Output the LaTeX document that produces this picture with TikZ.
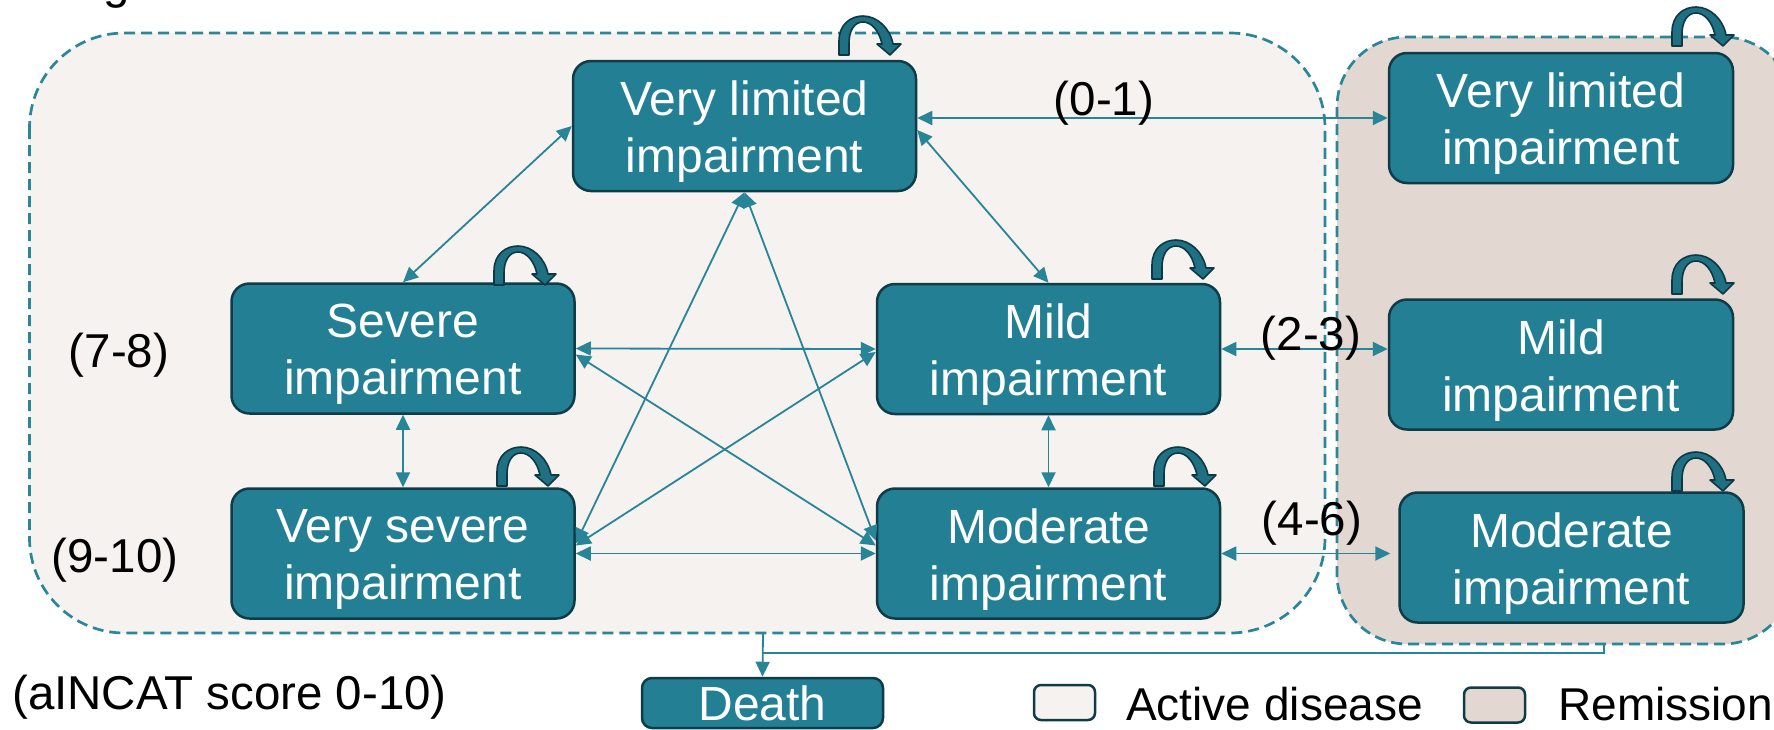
\documentclass[tikz,border=0pt]{standalone}
\usepackage{fontspec}
\setmainfont{Liberation Sans}
\usetikzlibrary{arrows.meta}

\definecolor{boxteal}{RGB}{34,127,148}
\definecolor{boxedge}{RGB}{16,60,72}
\definecolor{loopteal}{RGB}{30,112,130}
\definecolor{loopedge}{RGB}{14,56,68}
\definecolor{linkteal}{RGB}{40,133,152}
\definecolor{dashteal}{RGB}{42,134,153}
\definecolor{activebg}{RGB}{245,242,239}
\definecolor{remitbg}{RGB}{227,215,210}

\newcommand{\boxfont}{\fontsize{48pt}{57pt}\selectfont}
\newcommand{\lblfont}{\fontsize{47.5pt}{55pt}\selectfont}
\newcommand{\legfont}{\fontsize{46pt}{55pt}\selectfont}

\tikzset{
  tri/.tip={Triangle[length=15pt,width=14pt]},
  stbox/.style={draw=boxedge, line width=2.5pt, fill=boxteal, rounded corners=18pt,
    minimum width=343pt, minimum height=130pt, inner sep=0pt},
  boxtext/.style={text=white, font=\boxfont, align=center, yshift=-6pt, inner sep=0pt},
  lbl/.style={font=\lblfont, text=black, inner sep=0pt},
  legtext/.style={font=\legfont, text=black, inner sep=0pt},
  conn/.style={draw=linkteal, line width=1.8pt},
  region/.style={draw=dashteal, line width=2.7pt, dash pattern=on 11pt off 6pt},
  legbox/.style={draw=boxedge, line width=2.5pt, rounded corners=7pt,
    minimum width=61pt, minimum height=35pt, inner sep=0pt},
  selfloop/.pic={
    \path[draw=loopedge, fill=loopteal, line width=1.6pt, line join=round]
      (0,0) -- (0,-14) .. controls (0,-31) and (12,-39) .. (24,-39)
      .. controls (38,-39) and (51,-27) .. (54,-11)
      -- (62,-11) -- (51,0) -- (38,-11) -- (43,-11)
      .. controls (40,-25) and (32,-33) .. (24,-33)
      .. controls (15,-33) and (10,-24) .. (10,-12)
      -- (10,0) -- cycle;
  }
}

\begin{document}
\begin{tikzpicture}[x=1pt, y=-1pt]
  \useasboundingbox (0,0) rectangle (1774,729);
  \clip (0,0) rectangle (1774,729);

  % heading line, mostly above the page
  \node[lbl, anchor=base west] (heading) at (103,-2) {g};

  % disease-state regions
  \path[region, fill=activebg, rounded corners=95pt] (29.5,33) rectangle (1325,633);
  \path[region, fill=remitbg, rounded corners=70pt] (1337,37) rectangle (1793,644);
  \coordinate (actbot) at (763,633);
  \coordinate (rembot) at (1604,644);
  \coordinate (junc) at (763,653);

  % states in active disease
  \node[stbox, label={[boxtext]center:{Very limited\\impairment}}] (VLa) at (744.5,126) {};
  \node[stbox, label={[boxtext]center:{Severe\\impairment}}] (Sev) at (403,348.5) {};
  \node[stbox, label={[boxtext]center:{Mild\\impairment}}] (Mild) at (1048.5,349) {};
  \node[stbox, label={[boxtext]center:{Very severe\\impairment}}] (VSev) at (403,553.5) {};
  \node[stbox, label={[boxtext]center:{Moderate\\impairment}}] (Mod) at (1048.5,553.5) {};

  % states in remission
  \node[stbox, minimum width=344pt, label={[boxtext]center:{Very limited\\impairment}}] (VLr) at (1561,118) {};
  \node[stbox, minimum width=344pt, label={[boxtext]center:{Mild\\impairment}}] (Mildr) at (1561,364.5) {};
  \node[stbox, minimum width=344pt, label={[boxtext]center:{Moderate\\impairment}}] (Modr) at (1571.5,557.5) {};

  % absorbing state
  \node[stbox, minimum width=241pt, minimum height=50pt, rounded corners=10pt,
        text=white, font=\boxfont] (Death) at (762.5,703) {Death};

  % staying in the same state
  \pic at (839,55) {selfloop};
  \pic at (494,285) {selfloop};
  \pic at (1152,279) {selfloop};
  \pic at (497,486) {selfloop};
  \pic at (1154,486) {selfloop};
  \pic at (1672,46) {selfloop};
  \pic at (1672,294) {selfloop};
  \pic at (1672,491) {selfloop};

  % transitions between active states
  \draw[conn, tri-tri] (VLa.west) -- (Sev.north);
  \draw[conn, tri-tri] ([yshift=-4pt]VLa.east) -- (Mild.north);
  \draw[conn, tri-tri] (Sev.east) -- (Mild.west);
  \draw[conn, tri-tri] ([yshift=-6pt]Sev.east) -- ([yshift=8pt]Mod.west);
  \draw[conn, tri-tri] ([yshift=8pt]VSev.east) -- ([yshift=-3pt]Mild.west);
  \draw[conn, tri-tri] (VSev.east) -- (Mod.west);
  \draw[conn, tri-tri] ([yshift=10pt]VSev.east) -- (VLa.south);
  \draw[conn, tri-tri] ([yshift=13pt]Mod.west) -- (VLa.south);
  \draw[conn, tri-tri] (Sev.south) -- (VSev.north);
  \draw[conn, tri-tri] (Mild.south) -- (Mod.north);

  % transitions to and from remission
  \draw[conn, tri-tri] (VLa.east |- VLr.west) -- (VLr.west);
  \draw[conn, tri-tri] (Mild.east) -- (Mildr.west |- Mild.east);
  \draw[conn, tri-tri, shorten >=8pt] (Mod.east) -- (Modr.west |- Mod.east);

  % transitions to death
  \draw[conn] (rembot) |- (junc);
  \draw[conn, -tri] (actbot) -- (Death.north);

  % score ranges
  \node[lbl, anchor=base] (r01) at (1104,115) {(0-1)};
  \node[lbl, anchor=base] (r23) at (1311,350) {(2-3)};
  \node[lbl, anchor=base] (r46) at (1312,535) {(4-6)};
  \node[lbl, anchor=base] (r78) at (119,367) {(7-8)};
  \node[lbl, anchor=base] (r910) at (115,572) {(9-10)};
  \node[lbl, anchor=base west] (scale) at (12,709) {(aINCAT score 0-10)};

  % legend
  \node[legbox, fill=activebg] (legA) at (1064.5,702.5) {};
  \node[legtext, anchor=base west] (legAtext) at (1126,720) {Active disease};
  \node[legbox, fill=remitbg] (legR) at (1494.5,705) {};
  \node[legtext, anchor=base west] (legRtext) at (1558,720) {Remission};
\end{tikzpicture}
\end{document}
